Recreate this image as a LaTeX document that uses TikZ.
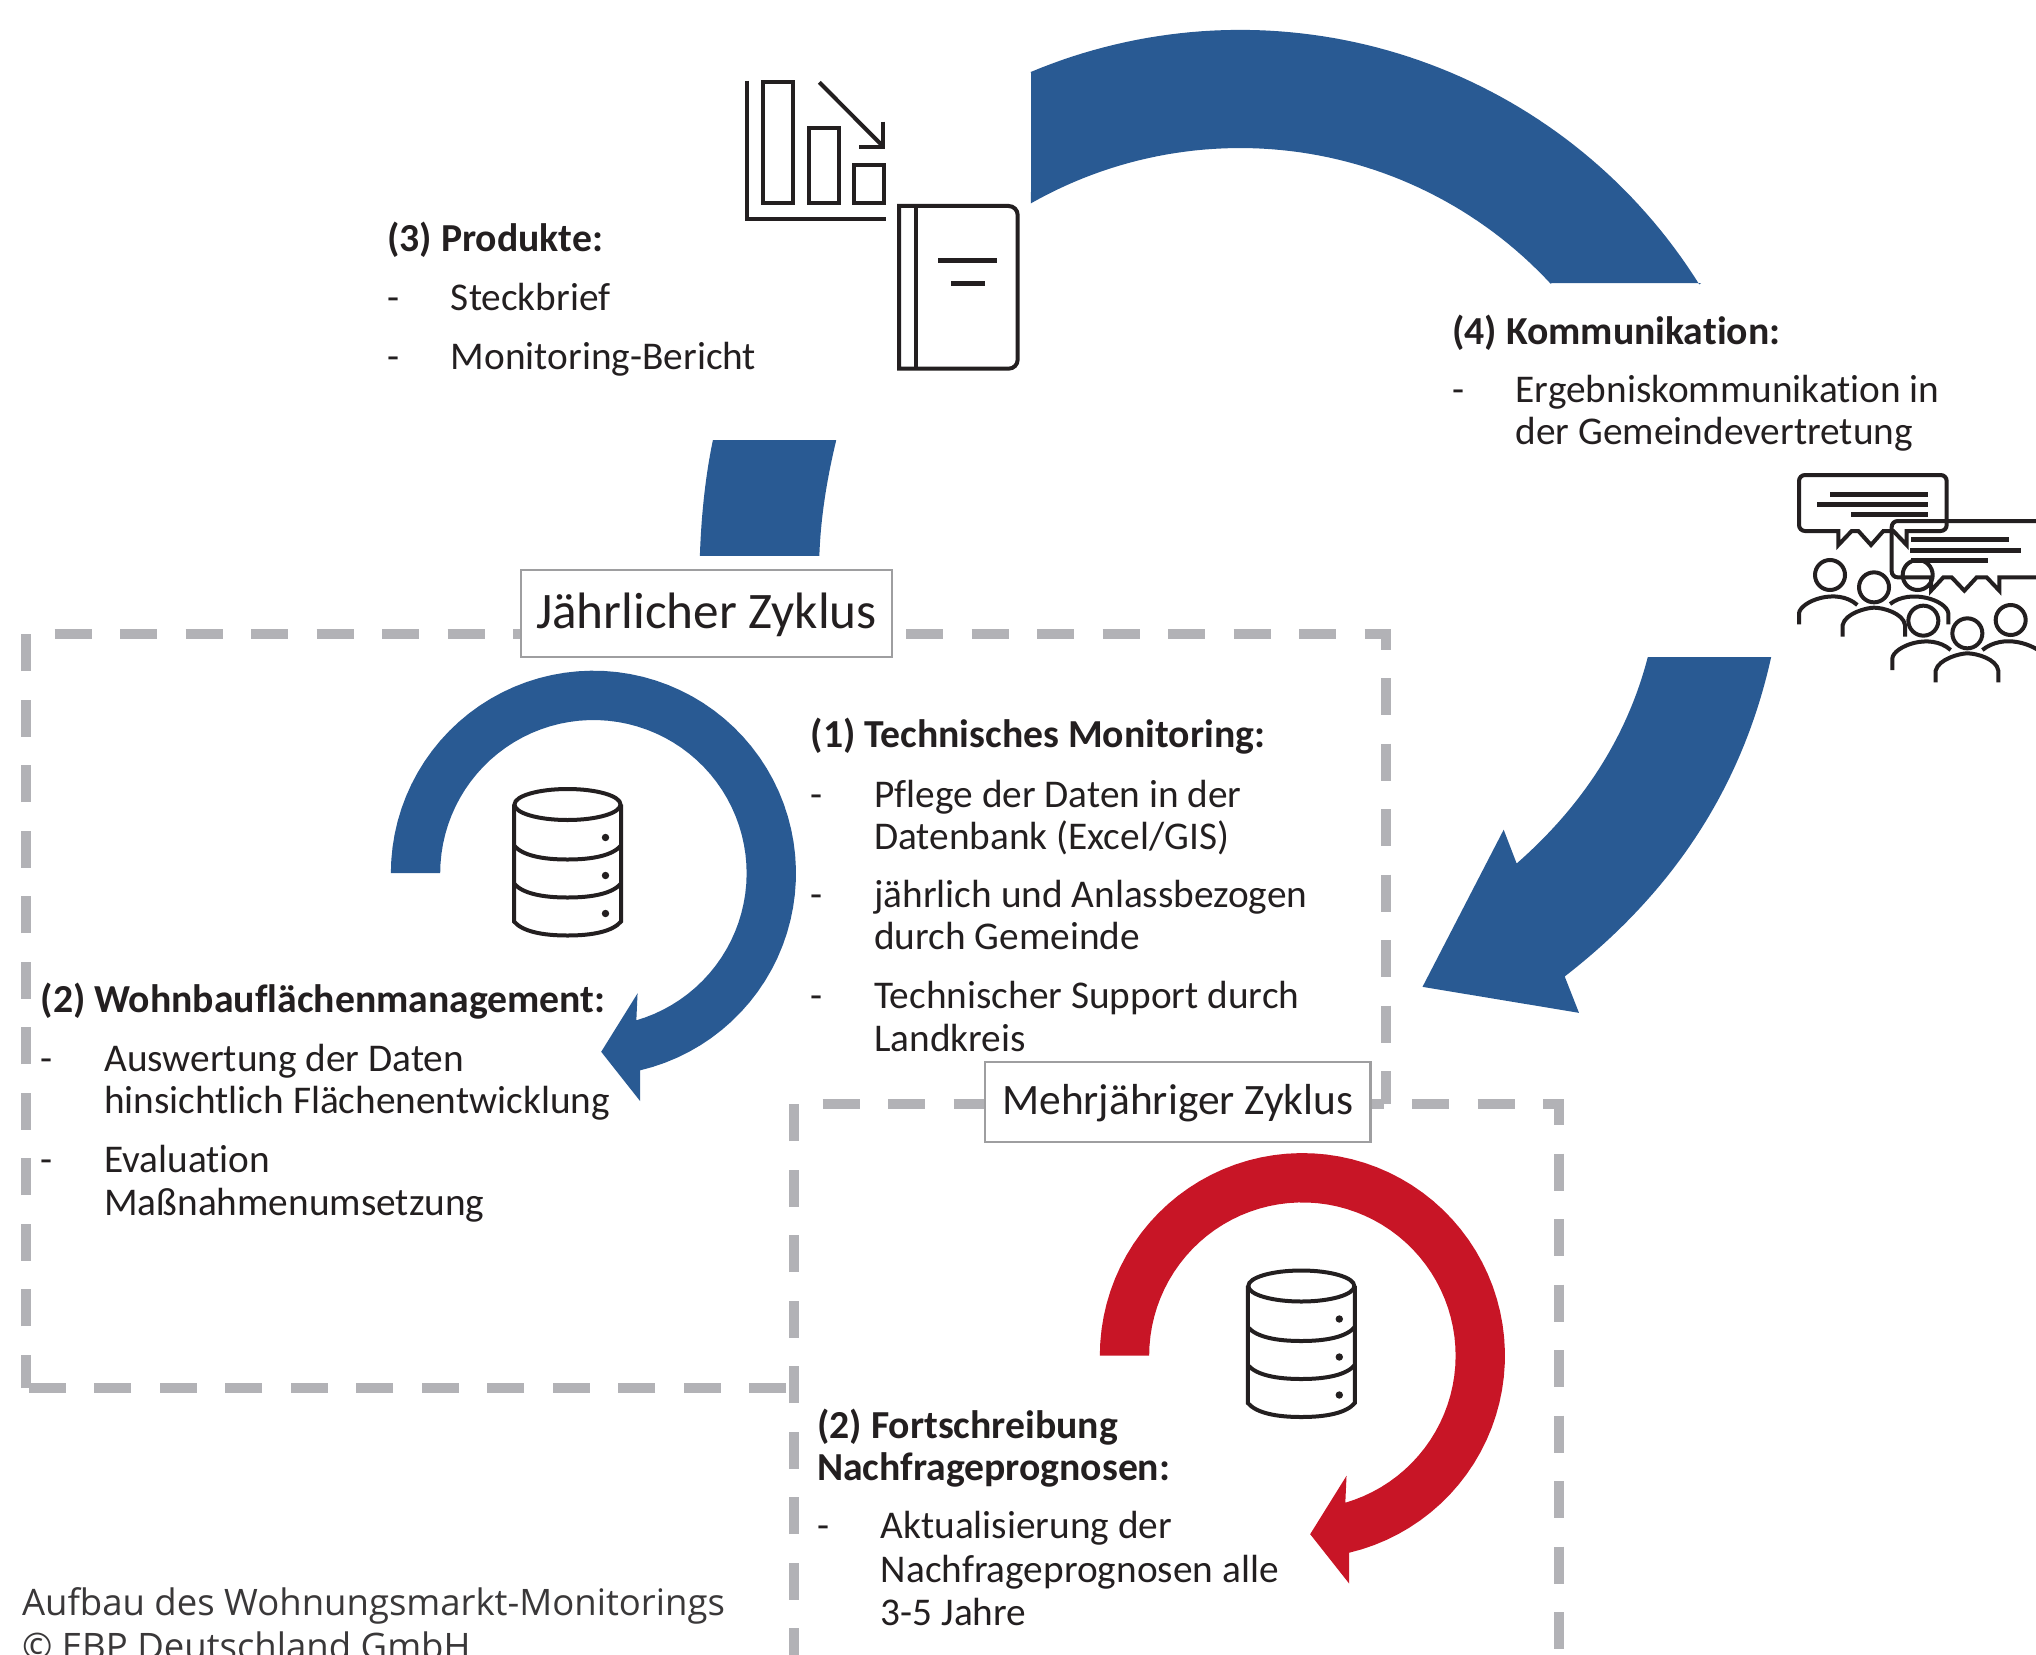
\documentclass[tikz,border=0pt]{standalone}
\usepackage{fontspec}
\setmainfont{Carlito}[Ligatures=NoCommon]
\newfontfamily\capfont{Open Sans}
\definecolor{bluearc}{HTML}{295A93}
\definecolor{redarc}{HTML}{C81526}
\definecolor{dashgray}{HTML}{B2B2B6}
\definecolor{boxgray}{HTML}{9E9EA0}
\definecolor{ink}{HTML}{231F20}
\definecolor{capink}{HTML}{3A3839}
\tikzset{
  disp/.style={x=1.2985pt,y=-1.2985pt},
  pix/.style={x=1pt,y=-1pt},
  third/.style={x=0.33333pt,y=-0.33333pt},
  txt/.style={anchor=base west,inner sep=0pt,outer sep=0pt,text=ink,font=\fontsize{39.3}{44}\selectfont},
  txtb/.style={txt,font=\fontsize{39.7}{44}\selectfont\bfseries},
  captxt/.style={anchor=base west,inner sep=0pt,outer sep=0pt,text=capink,font=\capfont\fontsize{36.5}{42}\selectfont},
  dashline/.style={draw=dashgray,line width=9.5pt},
  labelbox/.style={draw=boxgray,line width=2.5pt,fill=white,text=ink,inner sep=0pt},
  icon/.style={draw=ink,line width=4pt,fill=none},
}
\newcommand{\CircArrow}[1]{%
  \fill[#1] plot[domain=180:-76.7,samples=70] ({457+156*cos(\x)},{672.5-156*sin(\x)})
    -- (493,848) -- (463,810) -- (491,765) -- (490,787)
    -- plot[domain=-73.9:180,samples=70] ({457+118*cos(\x)},{672.5-118*sin(\x)}) -- cycle;
}
\newcommand{\DbIcon}{%
  \draw[icon] (0,0) ellipse [x radius=53pt,y radius=15.5pt];
  \draw[icon] (-53.5,0) -- (-53.5,117) .. controls (-45,127) and (-25,131) .. (0,131) .. controls (25,131) and (45,127) .. (53.5,117) -- (53.5,0);
  \draw[icon] (-53.5,41) .. controls (-45,51) and (-25,55) .. (0,55) .. controls (25,55) and (45,51) .. (53.5,41);
  \draw[icon] (-53.5,79) .. controls (-45,89) and (-25,93) .. (0,93) .. controls (25,93) and (45,89) .. (53.5,79);
  \fill[ink] (38,33) circle [radius=3.7pt] (38,71) circle [radius=3.7pt] (38,109) circle [radius=3.7pt];
}
\begin{document}
\begin{tikzpicture}[pix]
\useasboundingbox (0,0) rectangle (2036,1654);
\clip (0,0) rectangle (2036,1654);
\fill[white] (0,0) rectangle (2036,1654);

% large cycle arcs
\begin{scope}[disp]
\fill[bluearc] (794,56) -- plot[domain=112.77:32,samples=70] ({955+417*cos(\x)},{440-417*sin(\x)})
  -- (1310,218) -- (1195,218) -- plot[domain=42.8:119.6,samples=60] ({955+326*cos(\x)},{440-326*sin(\x)}) -- cycle;
\fill[bluearc] (549,339) .. controls (543,368) and (540,398) .. (539,428) -- (631,428) .. controls (632,398) and (637,368) .. (644,339) -- cycle;
\fill[bluearc] (1269,506) -- (1364,506) .. controls (1341,610) and (1285,690) .. (1205,752)
  -- (1216,780) -- (1095.5,760) -- (1158,639) -- (1168,665) .. controls (1225,615) and (1255,560) .. (1269,506) -- cycle;
\end{scope}

% dashed frames
\draw[dashline,dash pattern=on 37pt off 28.5pt] (786,1388) -- (26,1388);
\draw[dashline,dash pattern=on 37pt off 28.5pt,dash phase=3.5pt] (26,1388) -- (26,634) -- (1386,634) -- (1386,1104);
\draw[dashline,dash pattern=on 37pt off 28.5pt] (794,1730.5) -- (794,1104) -- (1559,1104) -- (1559,1730);

% circular arrows
\begin{scope}[disp]
\CircArrow{bluearc}
\end{scope}
\begin{scope}[disp,shift={(546,371.5)}]
\CircArrow{redarc}
\end{scope}

% database icons
\begin{scope}[pix,shift={(567.5pt,-804.5pt)}]
\DbIcon
\end{scope}
\begin{scope}[pix,shift={(1301.3pt,-1286pt)}]
\DbIcon
\end{scope}

% chart and book icon
\begin{scope}[third,shift={(720pt,-50pt)}]
\draw[icon,miter limit=10] (81,92) -- (81,508) -- (497,508);
\draw[icon] (130,96) rectangle (219,460);
\draw[icon] (267,234) rectangle (356,460);
\draw[icon] (403,345) rectangle (492,460);
\draw[icon] (298,97) -- (490,290);
\draw[icon] (490,215) -- (490,290) -- (417,290);
\draw[icon] (537,468) [rounded corners=9pt] -- (893,468) -- (893,956) [sharp corners] -- (537,956) -- cycle;
\draw[icon] (589,468) -- (589,956);
\draw[ink,line width=5pt] (654,631) -- (831,631);
\draw[ink,line width=5pt] (693,700) -- (795,700);
\end{scope}

% people icon
\begin{scope}[third,shift={(1770pt,-450pt)}]
\draw[icon] [rounded corners=6pt] (150,243) -- (87,243) -- (87,75) -- (530,75) -- (530,243) -- (450,243) [sharp corners] -- (410,243) -- (410,285) -- (370,243) -- (340,243) -- (303,285) -- (265,243) -- (245,243) -- (205,285) -- (205,243) -- (150,243);
\draw[ink,line width=5pt] (180,133) -- (474,133) (141,163) -- (474,163) (243,193) -- (474,193);
\draw[icon] [rounded corners=6pt] (880,213) -- (365,213) -- (365,382) -- (440,382) [sharp corners] -- (483,382) -- (483,422) -- (520,382) -- (545,382) -- (583,422) -- (620,382) -- (650,382) -- (688,422) -- (688,382) -- (880,382);
\draw[ink,line width=5pt] (423,268) -- (717,268) (420,301) -- (753,301) (423,331) -- (654,331);
\foreach \cx/\cy in {180/375,312/412,443/375,460/512,592/550,722/510}
  \draw[icon] (\cx,\cy) circle [radius=15pt];
\draw[icon] (87,523) -- (87,490) .. controls (90,455) and (200,410) .. (262,465);
\draw[icon] (218,560) -- (218,525) .. controls (225,490) and (290,473) .. (312,473) .. controls (340,473) and (400,490) .. (405,525) -- (405,560);
\draw[icon] (360,462) .. controls (420,415) and (530,450) .. (535,490) -- (535,523);
\draw[icon] (367,660) -- (367,625) .. controls (370,590) and (480,545) .. (542,600);
\draw[icon] (497,697) -- (497,662) .. controls (505,627) and (570,610) .. (592,610) .. controls (620,610) and (680,627) .. (685,662) -- (685,697);
\draw[icon] (637,600) .. controls (700,550) and (790,580) .. (830,620);
\end{scope}

% cycle labels
\node[labelbox,minimum width=371pt,minimum height=87pt,text height=36pt,text depth=6.8pt,font=\fontsize{51.2}{56}\selectfont] (jz) at (706.4,613.4) {Jährlicher Zyklus};
\node[labelbox,minimum width=385.5pt,minimum height=80pt,text height=31pt,text depth=5.4pt,font=\fontsize{43.4}{48}\selectfont] (mz) at (1177.8,1101.8) {Mehrjähriger Zyklus};

% texts
\begin{scope}[disp,yshift=-1.3pt,xshift=0.4pt]
\node[txtb] (p0) at (298,193) {(3) Produkte:};
\node[txt] (p1d) at (298,238.5) {-};
\node[txt] (p1) at (347,238.5) {Steckbrief};
\node[txt] (p2d) at (298,283.5) {-};
\node[txt] (p2) at (347,283.5) {Monitoring-Bericht};

\node[txtb] (k0) at (1118,264) {(4) Kommunikation:};
\node[txt] (k1d) at (1118,309) {-};
\node[txt] (k1) at (1167,309) {Ergebniskommunikation in};
\node[txt] (k2) at (1167,341.5) {der Gemeindevertretung};

\node[txtb] (m0) at (624,575) {(1) Technisches Monitoring:};
\node[txt] (m1d) at (624,620.5) {-};
\node[txt] (m1) at (673,620.5) {Pflege der Daten in der};
\node[txt] (m2) at (673,653) {Datenbank (Excel/GIS)};
\node[txt] (m3d) at (624,698) {-};
\node[txt] (m3) at (673,698) {jährlich und Anlassbezogen};
\node[txt] (m4) at (673,730.5) {durch Gemeinde};
\node[txt] (m5d) at (624,776) {-};
\node[txt] (m5) at (673,776) {Technischer Support durch};
\node[txt] (m6) at (673,809) {Landkreis};

\node[txtb] (w0) at (31,779) {(2) Wohnbauflächenmanagement:};
\node[txt] (w1d) at (31,824.5) {-};
\node[txt] (w1) at (80,824.5) {Auswertung der Daten};
\node[txt] (w2) at (80,856.5) {hinsichtlich Flächenentwicklung};
\node[txt] (w3d) at (31,902) {-};
\node[txt] (w3) at (80,902) {Evaluation};
\node[txt] (w4) at (80,935) {Maßnahmenumsetzung};

\node[txtb] (f0) at (629,1107) {(2) Fortschreibung};
\node[txtb] (f1) at (629,1139) {Nachfrageprognosen:};
\node[txt] (f2d) at (629,1184) {-};
\node[txt] (f2) at (678,1184) {Aktualisierung der};
\node[txt] (f3) at (678,1218) {Nachfrageprognosen alle};
\node[txt] (f4) at (678,1251) {3-5 Jahre};
\end{scope}
\begin{scope}[disp]
\node[captxt] (c1) at (17,1243.8) {Aufbau des Wohnungsmarkt-Monitorings};
\node[captxt] (c2) at (17,1277.7) {© EBP Deutschland GmbH};
\end{scope}
\end{tikzpicture}
\end{document}
